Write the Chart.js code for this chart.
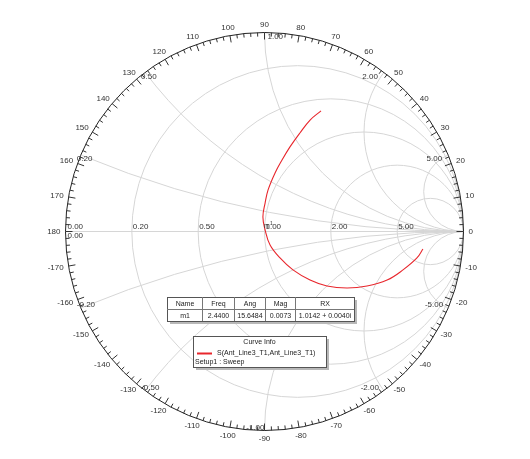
<!DOCTYPE html>
<html><head><meta charset="utf-8">
<script src="https://cdn.jsdelivr.net/npm/chart.js@4"></script>
<style>html,body{margin:0;padding:0;background:#fff;}canvas{display:block}</style>
</head><body>
<canvas id="c" width="530" height="459"></canvas>
<script>
const gammaRe = [0.284, 0.229, 0.178, 0.128, 0.088, 0.053, 0.018, 0.003, -0.008, 0.003, 0.028, 0.078, 0.143, 0.229, 0.314, 0.415, 0.515, 0.616, 0.696, 0.766, 0.796];
const gammaIm = [0.606, 0.560, 0.495, 0.425, 0.359, 0.294, 0.209, 0.143, 0.073, 0.008, -0.068, -0.133, -0.193, -0.244, -0.274, -0.284, -0.274, -0.244, -0.193, -0.133, -0.088];
// Smith grid values
const rCircles = [0.2, 0.5, 1, 2, 5];
const xArcs = [0.2, 0.5, 1, 2, 5];
const rLabels = ['0.20', '0.50', '1.00', '2.00', '5.00'];
const xPosLabels = ['0.20', '0.50', '1.00', '2.00', '5.00'];
const xNegLabels = ['-0.20', '-0.50', '-1.00', '-2.00', '-5.00'];
const angleLabels = [0,10,20,30,40,50,60,70,80,90,100,110,120,130,140,150,160,170,180,-10,-20,-30,-40,-50,-60,-70,-80,-90,-100,-110,-120,-130,-140,-150,-160,-170];
// marker table
const markerName = ['m1'];
const markerFreq = ['2.4400'];
const markerAng = [15.6484];
const markerMag = [0.0073];
const markerRX = ['1.0142 + 0.0040i'];
const traceName = 'S(Ant_Line3_T1,Ant_Line3_T1)';
const setupName = 'Setup1 : Sweep';

const FONT = '"Liberation Sans", Arial, sans-serif';

const smithPlugin = {
  id: 'smith',
  beforeDatasetsDraw(chart) {
    const ctx = chart.ctx, xs = chart.scales.x, ys = chart.scales.y;
    const px = v => xs.getPixelForValue(v), py = v => ys.getPixelForValue(v);
    const cx = px(0), cy = py(0), R = px(1) - px(0);
    ctx.save();
    ctx.beginPath(); ctx.arc(cx, cy, R, 0, 2 * Math.PI); ctx.clip();
    ctx.strokeStyle = '#d6d6d6'; ctx.lineWidth = 1;
    ctx.beginPath(); ctx.moveTo(px(-1), cy); ctx.lineTo(px(1), cy); ctx.stroke();
    rCircles.forEach(r => {
      const c = r / (1 + r), rad = 1 / (1 + r);
      ctx.beginPath(); ctx.arc(px(c), cy, px(c + rad) - px(c), 0, 2 * Math.PI); ctx.stroke();
    });
    xArcs.forEach(x => {
      [1, -1].forEach(s => {
        const rad = 1 / x;
        ctx.beginPath(); ctx.arc(px(1), py(s * rad), px(rad) - px(0), 0, 2 * Math.PI); ctx.stroke();
      });
    });
    ctx.restore();

    // rim and ticks
    ctx.save();
    ctx.strokeStyle = '#222'; ctx.lineWidth = 1;
    ctx.beginPath(); ctx.arc(cx, cy, R, 0, 2 * Math.PI); ctx.stroke();
    ctx.strokeStyle = '#333';
    for (let d = -178; d <= 180; d += 2) {
      const a = d * Math.PI / 180, len = d % 10 === 0 ? 7 : 4;
      ctx.beginPath();
      ctx.moveTo(cx + R * Math.cos(a), cy - R * Math.sin(a));
      ctx.lineTo(cx + (R - len) * Math.cos(a), cy - (R - len) * Math.sin(a));
      ctx.stroke();
    }
    // angle labels
    ctx.fillStyle = '#333'; ctx.font = '8px ' + FONT;
    ctx.textAlign = 'center'; ctx.textBaseline = 'middle';
    angleLabels.forEach(d => {
      const a = d * Math.PI / 180, t = String(d), w = ctx.measureText(t).width, h = 8;
      const x = cx + (R + 4) * Math.cos(a) + (w / 2 + 1) * Math.cos(a);
      const y = cy - (R + 4) * Math.sin(a) - (h / 2) * Math.sin(a);
      ctx.fillText(t, x, y);
    });
    // resistance labels on axis
    ctx.textAlign = 'left'; ctx.textBaseline = 'bottom';
    rCircles.forEach((r, i) => {
      const g = (r - 1) / (r + 1);
      ctx.fillText(rLabels[i], px(g) + 1, cy - 1);
    });
    ctx.fillText('0.00', px(-1) + 2, cy - 0.5);
    ctx.textBaseline = 'top';
    ctx.fillText('0.00', px(-1) + 2, cy + 0.5);
    // reactance labels on rim
    ctx.textBaseline = 'middle';
    xArcs.forEach((x, i) => {
      const gr = (x * x - 1) / (x * x + 1), gi = 2 * x / (x * x + 1);
      const X = px(gr), Yp = py(gi), Yn = py(-gi);
      if (gr < -0.01) {
        ctx.textAlign = 'left';
        ctx.fillText(xPosLabels[i], X - 4, Yp + 4);
        ctx.fillText(xNegLabels[i], X - 4, Yn - 3);
      } else if (gr > 0.01) {
        ctx.textAlign = 'right';
        ctx.fillText(xPosLabels[i], X - 6, Yp + 4);
        ctx.fillText(xNegLabels[i], X - 5, Yn - 3);
      } else {
        ctx.textAlign = 'left';
        ctx.fillText(xPosLabels[i], X + 3, Yp + 4);
        ctx.textAlign = 'right';
        ctx.fillText(xNegLabels[i], X, Yn - 3);
      }
    });
    ctx.restore();
  },
  afterDatasetsDraw(chart) {
    const ctx = chart.ctx, xs = chart.scales.x, ys = chart.scales.y;
    const px = v => xs.getPixelForValue(v), py = v => ys.getPixelForValue(v);
    ctx.save();
    // marker label
    const ma = markerAng[0] * Math.PI / 180;
    const mx = px(markerMag[0] * Math.cos(ma)), my = py(markerMag[0] * Math.sin(ma));
    ctx.fillStyle = '#333'; ctx.font = '7px ' + FONT;
    ctx.textAlign = 'left'; ctx.textBaseline = 'bottom';
    ctx.fillText('m', mx - 2, my - 2);
    ctx.font = '5px ' + FONT;
    ctx.fillText('1', mx + 4, my - 5);

    function box(x, y, w, h) {
      ctx.fillStyle = '#b8b8b8'; ctx.fillRect(x + 3, y + 3, w, h);
      ctx.fillStyle = '#fff'; ctx.fillRect(x, y, w, h);
      ctx.strokeStyle = '#555'; ctx.lineWidth = 1;
      ctx.strokeRect(x + 0.5, y + 0.5, w, h);
    }
    // marker table
    const cols = [167, 202, 234, 265, 295, 354];
    const t0 = 297, t1 = 309, t2 = 321;
    box(cols[0], t0, cols[5] - cols[0], t2 - t0);
    ctx.strokeStyle = '#777';
    ctx.beginPath();
    ctx.moveTo(cols[0], t1 + 0.5); ctx.lineTo(cols[5], t1 + 0.5);
    for (let i = 1; i < 5; i++) { ctx.moveTo(cols[i] + 0.5, t0); ctx.lineTo(cols[i] + 0.5, t2); }
    ctx.stroke();
    ctx.fillStyle = '#222'; ctx.font = '7px ' + FONT;
    ctx.textAlign = 'center'; ctx.textBaseline = 'middle';
    const head = ['Name', 'Freq', 'Ang', 'Mag', 'RX'];
    const row = [markerName[0], markerFreq[0], markerAng[0].toFixed(4), markerMag[0].toFixed(4), markerRX[0]];
    for (let i = 0; i < 5; i++) {
      const c = (cols[i] + cols[i + 1]) / 2 + 0.5;
      ctx.fillText(head[i], c, (t0 + t1) / 2 + 1);
      ctx.fillText(row[i], c, (t1 + t2) / 2 + 1);
    }
    // curve info
    box(193, 336, 133, 31);
    ctx.fillStyle = '#222';
    ctx.fillText('Curve Info', 259.5, 342.5);
    ctx.strokeStyle = '#e8262c'; ctx.lineWidth = 2;
    ctx.beginPath(); ctx.moveTo(197, 353.5); ctx.lineTo(212, 353.5); ctx.stroke();
    ctx.textAlign = 'left';
    ctx.fillText(traceName, 217, 353.5);
    ctx.fillText(setupName, 195, 362);
    ctx.restore();
  }
};

new Chart(document.getElementById('c'), {
  type: 'scatter',
  data: {
    datasets: [{
      label: traceName,
      data: gammaRe.map((v, i) => ({ x: v, y: gammaIm[i] })),
      showLine: true,
      borderColor: '#e8262c',
      borderWidth: 1.1,
      pointRadius: 0,
      tension: 0.4,
      fill: false
    }]
  },
  options: {
    responsive: false,
    animation: false,
    devicePixelRatio: 1,
    layout: { padding: { left: 65.5, right: 66.5, top: 32.5, bottom: 28.5 } },
    scales: {
      x: { type: 'linear', min: -1, max: 1, display: false },
      y: { type: 'linear', min: -1, max: 1, display: false }
    },
    plugins: { legend: { display: false }, tooltip: { enabled: false } }
  },
  plugins: [smithPlugin]
});
</script>
</body></html>
